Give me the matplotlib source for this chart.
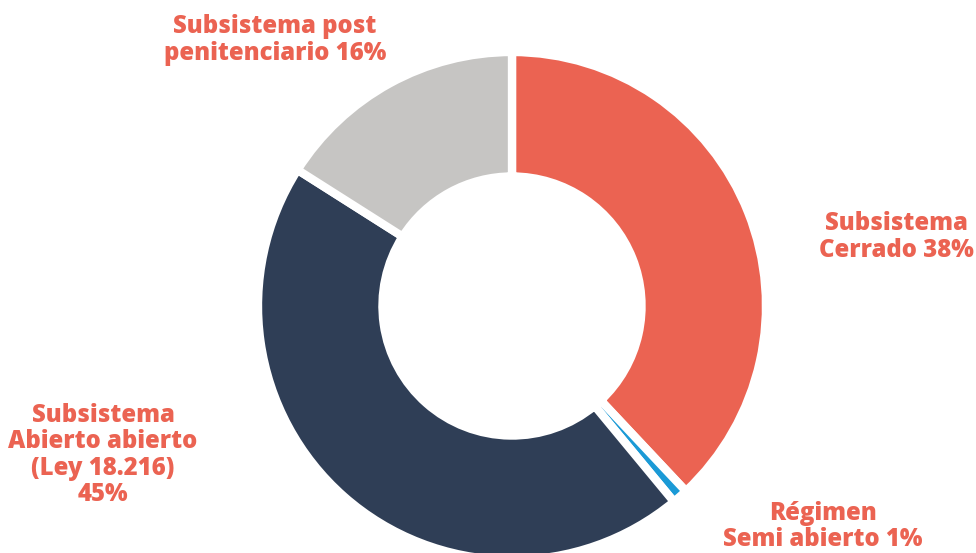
import matplotlib
matplotlib.use('Agg')
import matplotlib.pyplot as plt

labels = ['Subsistema\nCerrado 38%', 'Régimen\nSemi abierto 1%',
          'Subsistema\nAbierto abierto\n(Ley 18.216)\n45%',
          'Subsistema post\npenitenciario 16%']
shares = [38, 1, 45, 16]
colors = ['#EB6352', '#1B9AD6', '#2F3E56', '#C6C5C3']

# label anchor points, in units of the outer radius
label_xy = [(1.515, 0.272), (1.224, -0.868), (-1.61, -0.587), (-0.933, 1.047)]

plt.rcParams['font.family'] = ['Open Sans', 'DejaVu Sans']

fig = plt.figure(figsize=(9.76, 5.53), dpi=100)
ax = fig.add_axes([0, 0, 1, 1])

ax.pie(shares, colors=colors, startangle=90, counterclock=False,
       radius=1.0,
       wedgeprops=dict(width=0.49, edgecolor='white', linewidth=6))

for text, (x, y) in zip(labels, label_xy):
    ax.text(x, y, text, ha='center', va='center', fontsize=17.2,
            fontweight=800, color='#EB6352', linespacing=1.07)

# one data unit = 254 px, ring centre at (512, 306) px from top-left
ax.set_xlim(-512 / 254, (976 - 512) / 254)
ax.set_ylim(-(553 - 306) / 254, 306 / 254)
ax.set_aspect('auto')
ax.axis('off')

fig.savefig('out.png', dpi=100, facecolor='white')
